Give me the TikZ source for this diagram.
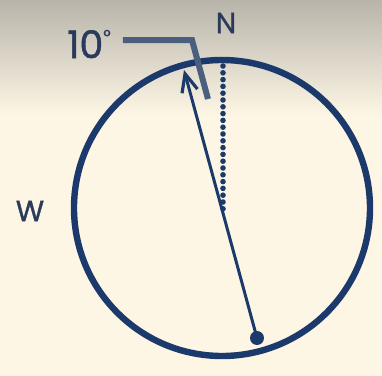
\documentclass[tikz,border=0pt]{standalone}
\usepackage{fontspec}
\setmainfont{Poppins}
\newfontfamily\labfont{Poppins}[FakeBold=1.2]
\usetikzlibrary{arrows.meta,positioning}

\definecolor{navy}{HTML}{1B3A6B}
\definecolor{leader}{HTML}{4A5E7E}
\definecolor{ink}{HTML}{2A3A5C}
\definecolor{cream}{HTML}{FDF6E5}
\definecolor{haze}{HTML}{B8B4AA}

\begin{document}
\begin{tikzpicture}[
    x=0.5pt, y=-0.5pt,
    rim/.style={draw=navy, line width=3.2pt},
    needle/.style={draw=navy, line width=1.5pt, -{Straight Barb[length=9pt, width=8pt, line width=1.6pt]}},
    north/.style={draw=navy, line width=2.8pt, line cap=round, dash pattern=on 0pt off 3.4pt},
    brack/.style={draw=leader, line width=3pt, line cap=butt},
    lbl/.style={text=ink, inner sep=0pt, font=\labfont\fontsize{14.5}{14.5}\selectfont}
]
    % background
    \useasboundingbox (0,0) rectangle (382,376);
    \fill[cream] (0,0) rectangle (382,376);
    \shade[top color=haze, bottom color=cream] (0,0) rectangle (382,115);

    % compass
    \coordinate (ctr) at (222,208);
    \coordinate (tail) at (257,338);
    \coordinate (tip) at (184,70);
    \coordinate (ntop) at (223,66);
    \coordinate (nbot) at (223,212);
    \draw[rim] (ctr) circle[radius=148];

    % labels
    \node[lbl] (nlab) at (226,23) {N};
    \node[lbl] (wlab) at (30,211) {W};
    \node[lbl, font=\labfont\fontsize{19}{19}\selectfont] (angle) at (89,44) {10\raisebox{0.75ex}{\fontsize{9}{9}\selectfont°}};

    % true north and bearing
    \draw[north] (ntop) -- (nbot);
    \draw[needle] (tail) -- (tip);
    \fill[navy] (tail) circle[radius=7];

    % angle marker
    \coordinate (bstart) at (123,40);
    \coordinate (bend) at (192,40);
    \coordinate (bfoot) at (208,99);
    \draw[brack] (bstart) -- (bend) -- (bfoot);
\end{tikzpicture}
\end{document}
